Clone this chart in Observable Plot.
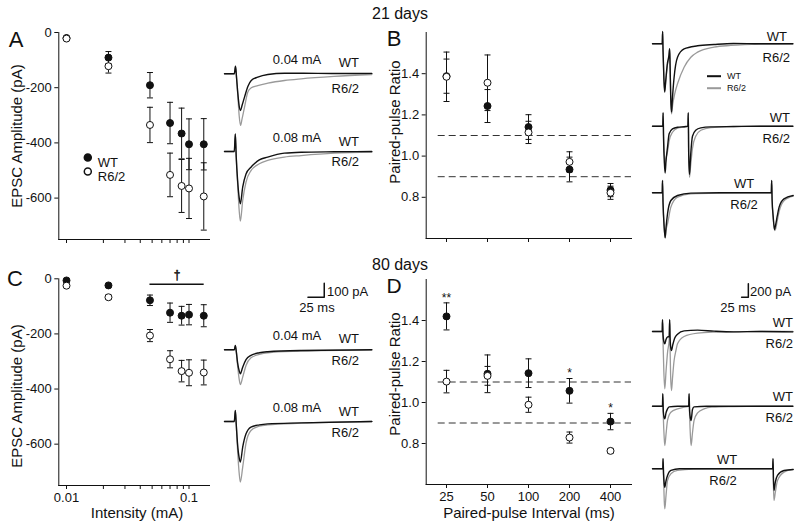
<!DOCTYPE html>
<html><head><meta charset="utf-8">
<script src="https://cdn.jsdelivr.net/npm/d3@7"></script>
<script src="https://cdn.jsdelivr.net/npm/@observablehq/plot@0.6"></script>
<style>
body{margin:0;background:#fff}
#fig{position:relative;width:800px;height:527px;overflow:hidden;font-family:"Liberation Sans",Arial,Helvetica,sans-serif;color:#111;background:#fff}
#fig svg{position:absolute}
.lbl{position:absolute;white-space:nowrap;line-height:1}
</style></head><body><div id="fig"></div>
<script>
// ---------------- data ----------------
const intensity = [0.01, 0.022, 0.048, 0.07, 0.087, 0.1, 0.132];
const intensityTicks = [0.01,0.02,0.03,0.04,0.05,0.06,0.07,0.08,0.09,0.1];
const ampTicks = [0, -200, -400, -600];

// 21 days, EPSC amplitude (pA)
const a21WT      = [-20, -91, -191, -328, -366, -405, -405];
const a21WTerr   = [0, 22, 46, 75, 92, 92, 93];
const a21R62     = [-22, -122, -335, -516, -556, -565, -594];
const a21R62err  = [0, 25, 64, 79, 96, 109, 122];

// 80 days, EPSC amplitude (pA)
const a80WT      = [-6, -24, -78, -123, -134, -130, -134];
const a80WTerr   = [0, 0, 19, 35, 34, 37, 40];
const a80R62     = [-25, -67, -206, -292, -335, -341, -340];
const a80R62err  = [0, 8, 22, 31, 39, 47, 45];
const sigBar80   = {from: 0.048, to: 0.133, level: -20, label: "†"};

// paired-pulse ratio
const interval = [25, 50, 100, 200, 400];
const ppTicks = [0.8, 1.0, 1.2, 1.4];
const ppRefLines = [1.1, 0.9];
const p21WT     = [1.388, 1.243, 1.141, 0.935, 0.835];
const p21WTerr  = [0.083, 0.08, 0.06, 0.06, 0.032];
const p21R62    = [1.385, 1.356, 1.115, 0.972, 0.822];
const p21R62err = [0.12, 0.135, 0.054, 0.049, 0.032];
const p80WT     = [1.42, 1.14, 1.143, 1.057, 0.907];
const p80WTerr  = [0.066, 0.092, 0.07, 0.06, 0.04];
const p80R62    = [1.102, 1.13, 0.989, 0.829, 0.764];
const p80R62err = [0.055, 0.046, 0.037, 0.027, 0.012];
const p80Stars  = ["**", "", "", "*", "*"];

// example traces: [time (ms), current (pA)]
const trA1WT = [[0,0],[15,0],[16.9,54],[18.5,-30],[20.5,-143],[22.5,-230],[24.5,-262],[27,-225],[30.7,-167],[35.8,-91],[41,-48],[51,-24],[66.5,-5],[92,4],[117.6,4],[168,2],[226,3]];
const trA1R62 = [[0,0],[15,0],[16.9,54],[18.5,-30],[20.5,-160],[22.5,-300],[24.5,-369],[27,-320],[30.7,-238],[35.8,-130],[41,-100],[51,-84],[66.5,-67],[92,-48],[117.6,-36],[168,-19],[226,-5]];
const trA2WT = [[0,0],[15,0],[16.6,126],[18,-40],[20,-200],[22.5,-330],[24.3,-374],[27.9,-255],[33,-160],[40.6,-112],[45.8,-88],[53.4,-60],[66.2,-40],[91.8,-12],[117.4,-5],[168.5,-2],[226,0]];
const trA2R62 = [[0,0],[15,0],[16.6,126],[18,-40],[20,-220],[22.5,-420],[24.3,-498],[27.9,-350],[33,-219],[40.6,-136],[53.4,-88],[66.2,-64],[91.8,-40],[117.4,-29],[168.5,-12],[226,-5]];
const trC1WT = [[0,0],[15,0],[16.6,31],[18,-10],[20,-90],[22.5,-150],[24.3,-171],[27.9,-124],[33,-71],[40.6,-40],[53.4,-21],[66.2,-14],[117.4,-5],[226,0]];
const trC1R62 = [[0,0],[15,0],[16.6,31],[18,-10],[20,-110],[22.5,-210],[24.3,-248],[27.9,-195],[33,-112],[40.6,-57],[53.4,-33],[66.2,-21],[117.4,-10],[226,0]];
const trC2WT = [[0,0],[15,0],[16.6,79],[18,-20],[20,-160],[22.5,-260],[24.3,-290],[27.9,-183],[33,-88],[40.6,-40],[53.4,-24],[66.2,-17],[117.4,-10],[226,0]];
const trC2R62 = [[0,0],[15,0],[16.6,79],[18,-20],[20,-200],[22.5,-370],[24.3,-433],[27.9,-326],[33,-155],[40.6,-64],[53.4,-33],[66.2,-24],[117.4,-12],[226,0]];

const trB1WT = [[0,0],[36,0],[37.5,184],[39,-100],[42,-500],[45,-722],[49,-550],[55,-300],[61,-170],[63.5,-75],[65,-300],[67.5,-800],[70.4,-1020],[74,-800],[80,-500],[92.6,-200],[117,-75],[167,-30],[228,-10],[300,5],[400,0],[520,0]];
const trB1R62 = [[0,0],[36,0],[37.5,184],[39,-100],[42,-500],[45,-700],[49,-560],[55,-320],[61,-190],[63.5,-75],[65,-300],[67.5,-800],[70.4,-1045],[75,-900],[82,-750],[92.6,-597],[117,-349],[142,-200],[167,-125],[228,-50],[290,-25],[400,-5],[520,0]];
const trB2WT = [[0,0],[38,0],[39.3,200],[41,-200],[44,-550],[46.7,-701],[50,-520],[55.6,-313],[61.6,-114],[74,-40],[92.6,-15],[123,-5],[131,0],[132.5,200],[134,-400],[137,-720],[141,-450],[148,-150],[160,-60],[179,-25],[216,-10],[300,-5],[400,0],[520,0]];
const trB2R62 = [[0,0],[38,0],[39.3,200],[41,-150],[44,-450],[46.7,-560],[50,-480],[55.6,-380],[61.6,-220],[74,-90],[92.6,-30],[123,-10],[131,0],[132.5,200],[134,-400],[137,-761],[141,-600],[148,-330],[160,-150],[179,-60],[216,-20],[300,-5],[400,0],[520,0]];
const trB3WT = [[0,0],[36,0],[37,184],[39,-150],[43,-500],[46.7,-672],[50,-520],[55.6,-313],[68,-115],[92.6,-40],[142,-5],[250,0],[440,0],[441.5,184],[443,-100],[447,-350],[452,-550],[456,-480],[462,-350],[469,-214],[487,-90],[521,-40]];
const trB3R62 = [[0,0],[36,0],[37,184],[39,-150],[43,-500],[46.7,-672],[50,-560],[55.6,-463],[68,-214],[92.6,-65],[142,-15],[250,-5],[440,0],[441.5,184],[443,-100],[447,-380],[452,-563],[456,-540],[462,-420],[469,-280],[487,-120],[521,-50]];

const trD1WT = [[0,0],[36,0],[37,175],[39,-50],[42,-150],[45.5,-184],[50,-120],[56,-80],[62,-75],[63.5,175],[65,-80],[67,-220],[70,-284],[75,-200],[82,-100],[92.6,-40],[117,10],[167,20],[228,5],[300,-5],[400,0],[520,-5]];
const trD1R62 = [[0,0],[36,0],[37,175],[39,-150],[42,-600],[45.5,-855],[50,-600],[56,-300],[61.6,-134],[63.5,175],[65,-200],[67,-650],[70.4,-881],[74,-700],[80,-433],[87,-280],[92.6,-184],[117,-75],[167,-25],[228,-10],[300,-5],[400,0],[520,0]];
const trD2WT = [[0,0],[37,0],[38,185],[40,-80],[43,-170],[45.5,-188],[50,-100],[55.6,-40],[61.6,-10],[92.6,0],[134,0],[135.5,185],[137.5,-80],[140.5,-180],[143,-213],[148,-50],[154,-10],[200,0],[300,0],[400,0],[520,0]];
const trD2R62 = [[0,0],[37,0],[38,185],[40,-150],[43,-450],[45.5,-587],[50,-420],[55.6,-213],[68,-90],[92.6,-40],[117,-15],[134,0],[135.5,185],[137.5,-150],[140.5,-450],[143,-587],[148,-400],[154,-213],[167,-100],[191,-40],[220,-15],[300,-5],[400,0],[520,0]];
const trD3WT = [[0,0],[38,0],[39,150],[41,-80],[43.5,-230],[45.5,-275],[50,-180],[55.6,-100],[68,-25],[100,0],[300,0],[445,0],[446.5,150],[448,-150],[450,-324],[455,-200],[463,-100],[487,-25],[521,-10]];
const trD3R62 = [[0,0],[38,0],[39,150],[41,-150],[43.5,-480],[45.5,-597],[50,-400],[55.6,-175],[68,-75],[92.6,-25],[150,-5],[300,0],[445,0],[446.5,150],[448,-250],[450,-473],[455,-350],[463,-175],[487,-50],[521,-10]];

const scaleBarC = {ms: 25, pA: 100, t0: 128, v0: 376};
const scaleBarD = {ms: 25, pA: 200, t0: 330, v0: 512};

// ---------------- layout helpers ----------------
const FONT = '"Liberation Sans", Arial, Helvetica, sans-serif';
const INK = "#111";
const fig = document.getElementById("fig");
function place(el, left, top) { el.style.left = left + "px"; el.style.top = top + "px"; fig.appendChild(el); }
function label(text, x, y, {size = 13, align = "center", rotate = false, color = INK} = {}) {
  const d = document.createElement("div");
  d.className = "lbl"; d.textContent = text;
  d.style.fontSize = size + "px"; d.style.color = color;
  const tx = align === "center" ? "-50%" : align === "right" ? "-100%" : "0";
  d.style.transform = `translate(${tx},-50%)` + (rotate ? " rotate(-90deg)" : "");
  d.style.left = x + "px"; d.style.top = y + "px";
  fig.appendChild(d);
}
const capSym = {draw(ctx, size) { const r = Math.sqrt(size / Math.PI); ctx.moveTo(-r, 0); ctx.lineTo(r, 0); }};

function scatter({left, top, width, height, ml, mt, mr, mb, x, y, xs, wt, wte, r6, r6e, extra = [], pre = []}) {
  const rows = xs.map((v, i) => ({x: v, wt: wt[i], we: wte[i], r6: r6[i], re: r6e[i], i}));
  const svg = Plot.plot({
    width, height, marginLeft: ml, marginTop: mt, marginRight: mr, marginBottom: mb,
    x: {label: null, line: true, tickSize: 4, tickPadding: 3, ...x},
    y: {label: null, line: true, tickSize: 4, tickPadding: 3, ...y},
    style: {background: "transparent", overflow: "visible", fontFamily: FONT, fontSize: "13px", color: INK},
    marks: [
      ...pre,
      Plot.ruleX(rows.filter(d => d.we > 0), {x: "x", y1: d => d.wt - d.we, y2: d => d.wt + d.we, stroke: INK, strokeWidth: 1}),
      Plot.ruleX(rows.filter(d => d.re > 0), {x: "x", y1: d => d.r6 - d.re, y2: d => d.r6 + d.re, stroke: INK, strokeWidth: 1}),
      Plot.dot(rows.filter(d => d.we > 0), {x: "x", y: d => d.wt + d.we, symbol: capSym, r: 3, stroke: INK, fill: "none", strokeWidth: 1}),
      Plot.dot(rows.filter(d => d.we > 0), {x: "x", y: d => d.wt - d.we, symbol: capSym, r: 3, stroke: INK, fill: "none", strokeWidth: 1}),
      Plot.dot(rows.filter(d => d.re > 0), {x: "x", y: d => d.r6 + d.re, symbol: capSym, r: 3, stroke: INK, fill: "none", strokeWidth: 1}),
      Plot.dot(rows.filter(d => d.re > 0), {x: "x", y: d => d.r6 - d.re, symbol: capSym, r: 3, stroke: INK, fill: "none", strokeWidth: 1}),
      Plot.dot(rows, {x: "x", y: "wt", r: 3.5, fill: INK, stroke: INK, strokeWidth: 1}),
      Plot.dot(rows, {x: "x", y: "r6", r: 3.5, fill: "white", stroke: INK, strokeWidth: 1}),
      ...extra
    ]
  });
  place(svg, left, top);
}

function traceChart({left, top, bottom, baseY, kt, kv, T, wt, r6, extra = []}) {
  const width = T * kt, height = bottom - top;
  const hi = (baseY - top) / kv, lo = -(bottom - baseY) / kv;
  const svg = Plot.plot({
    width, height, margin: 0,
    x: {domain: [0, T], axis: null},
    y: {domain: [lo, hi], axis: null},
    style: {background: "transparent", overflow: "visible"},
    marks: [
      Plot.line(r6, {x: d => d[0], y: d => d[1], stroke: "#9a9a9a", strokeWidth: 1.3, curve: "monotone-x"}),
      Plot.line(wt, {x: d => d[0], y: d => d[1], stroke: INK, strokeWidth: 1.4, curve: "monotone-x"}),
      ...extra
    ]
  });
  place(svg, left, top);
}
function scaleBarMark(sb) {
  return Plot.line([[sb.t0, sb.v0], [sb.t0 + sb.ms, sb.v0], [sb.t0 + sb.ms, sb.v0 + sb.pA]],
    {x: d => d[0], y: d => d[1], stroke: INK, strokeWidth: 1.5});
}

// ---------------- scatter panels ----------------
const logX = (labels) => ({type: "log", domain: [0.00865, 0.147], ticks: intensityTicks,
  tickFormat: d => labels && (d === 0.01 || d === 0.1) ? String(d) : ""});
const ampY = {domain: [-750, 0], ticks: ampTicks, tickFormat: d => String(d)};
const ppY = {domain: [0.6, 1.6], ticks: ppTicks, tickFormat: d3.format(".1f")};
const ptX = (labels) => ({type: "point", domain: interval, padding: 0.5, tickFormat: d => labels ? String(d) : ""});

const legendMarks = [
  Plot.dot([0], {frameAnchor: "top-left", dx: 29, dy: 125, r: 3.5, fill: INK, stroke: INK}),
  Plot.dot([0], {frameAnchor: "top-left", dx: 29, dy: 139, r: 3.5, fill: "white", stroke: INK}),
  Plot.text(["WT"], {frameAnchor: "top-left", dx: 39, dy: 125, text: d => d, textAnchor: "start", fontSize: 13, fill: INK}),
  Plot.text(["R6/2"], {frameAnchor: "top-left", dx: 39, dy: 139, text: d => d, textAnchor: "start", fontSize: 13, fill: INK})
];

// A
scatter({left: 0, top: 0, width: 230, height: 260, ml: 58.3, mt: 32, mr: 21, mb: 21,
  x: logX(false), y: ampY, xs: intensity, wt: a21WT, wte: a21WTerr, r6: a21R62, r6e: a21R62err, extra: legendMarks});
// C
scatter({left: 0, top: 260, width: 230, height: 267, ml: 58.3, mt: 18.3, mr: 21, mb: 42,
  x: logX(true), y: ampY, xs: intensity, wt: a80WT, wte: a80WTerr, r6: a80R62, r6e: a80R62err,
  extra: [
    Plot.ruleY([sigBar80], {y: "level", x1: "from", x2: "to", stroke: INK, strokeWidth: 1.5}),
    Plot.text([sigBar80], {x: d => Math.sqrt(d.from * d.to), y: "level", text: d => d.label, dy: -9, fontSize: 12,
      fill: INK, stroke: INK, strokeWidth: 0.5})
  ]});
// B
const dashed = Plot.ruleY(ppRefLines, {stroke: "#333", strokeWidth: 1, strokeDasharray: "7,4", insetLeft: 12});
scatter({left: 380, top: 0, width: 255, height: 260, ml: 45.7, mt: 32, mr: 4, mb: 22,
  x: ptX(false), y: ppY, xs: interval, wt: p21WT, wte: p21WTerr, r6: p21R62, r6e: p21R62err, pre: [dashed]});
// D
scatter({left: 380, top: 260, width: 255, height: 267, ml: 45.7, mt: 19, mr: 4, mb: 43,
  x: ptX(true), y: ppY, xs: interval, wt: p80WT, wte: p80WTerr, r6: p80R62, r6e: p80R62err, pre: [dashed],
  extra: [Plot.text(interval.map((v, i) => ({x: v, y: p80WT[i] + p80WTerr[i], s: p80Stars[i]})),
    {x: "x", y: "y", text: "s", dy: -5, fontSize: 12, fill: INK})]});

// ---------------- traces ----------------
const kAC = {kt: 0.652, kv: 0.14, T: 226, left: 223.5};
traceChart({...kAC, top: 55, bottom: 135, baseY: 73.3, wt: trA1WT, r6: trA1R62});
traceChart({...kAC, top: 125, bottom: 228, baseY: 151, wt: trA2WT, r6: trA2R62});
traceChart({...kAC, top: 280, bottom: 392, baseY: 349.3, wt: trC1WT, r6: trC1R62, extra: [scaleBarMark(scaleBarC)]});
traceChart({...kAC, top: 400, bottom: 490, baseY: 421, wt: trC2WT, r6: trC2R62});
const kBD = {kt: 0.27, kv: 0.067, T: 522, left: 651.7};
traceChart({...kBD, top: 25, bottom: 120, baseY: 43.3, wt: trB1WT, r6: trB1R62});
traceChart({...kBD, top: 105, bottom: 182, baseY: 125.7, wt: trB2WT, r6: trB2R62});
traceChart({...kBD, top: 172, bottom: 245, baseY: 192.3, wt: trB3WT, r6: trB3R62});
traceChart({...kBD, top: 280, bottom: 396, baseY: 331, wt: trD1WT, r6: trD1R62, extra: [scaleBarMark(scaleBarD)]});
traceChart({...kBD, top: 388, bottom: 452, baseY: 405.7, wt: trD2WT, r6: trD2R62});
traceChart({...kBD, top: 450, bottom: 515, baseY: 468.3, wt: trD3WT, r6: trD3R62});

// ---------------- text ----------------
label("21 days", 400, 14, {size: 16});
label("80 days", 400, 265, {size: 16});
label("A", 16, 40, {size: 22});
label("B", 394, 39, {size: 22});
label("C", 15, 279, {size: 22});
label("D", 394, 285, {size: 21});
label("EPSC Amplitude (pA)", 16, 136, {size: 15, rotate: true});
label("EPSC Amplitude (pA)", 16, 396, {size: 15, rotate: true});
label("Paired-pulse Ratio", 394, 122, {size: 15, rotate: true});
label("Paired-pulse Ratio", 394, 374, {size: 15, rotate: true});
label("Intensity (mA)", 137, 512, {size: 15});
label("Paired-pulse Interval (ms)", 529, 512, {size: 15});

label("0.04 mA", 297, 59); label("WT", 359, 62, {align: "right"}); label("R6/2", 359, 88, {align: "right"});
label("0.08 mA", 297, 137); label("WT", 359, 141, {align: "right"}); label("R6/2", 359, 161, {align: "right"});
label("0.04 mA", 297, 335); label("WT", 359, 338, {align: "right"}); label("R6/2", 359, 360, {align: "right"});
label("0.08 mA", 297, 407); label("WT", 359, 411, {align: "right"}); label("R6/2", 359, 432, {align: "right"});
label("100 pA", 327, 291, {align: "left"}); label("25 ms", 317, 307);
label("200 pA", 750, 291, {align: "left"}); label("25 ms", 738, 307);

label("WT", 787, 36, {align: "right"}); label("R6/2", 790, 57, {align: "right"});
label("WT", 790, 117, {align: "right"}); label("R6/2", 790, 138, {align: "right"});
label("WT", 744, 183); label("R6/2", 744, 204);
label("WT", 793, 322, {align: "right"}); label("R6/2", 793, 343, {align: "right"});
label("WT", 793, 396, {align: "right"}); label("R6/2", 793, 417, {align: "right"});
label("WT", 727, 459); label("R6/2", 723, 480);

// B trace legend swatches
function swatch(x, y, w, color) { const d = document.createElement("div"); d.style.position = "absolute"; d.style.width = w + "px"; d.style.height = "1.6px"; d.style.background = color; d.style.transform = "translateY(-50%)"; place(d, x, y); }
swatch(707, 76, 14, INK); swatch(707, 88.3, 14, "#9a9a9a");
label("WT", 727, 76, {size: 9, align: "left"}); label("R6/2", 727, 88.3, {size: 9, align: "left"});
</script></body></html>
